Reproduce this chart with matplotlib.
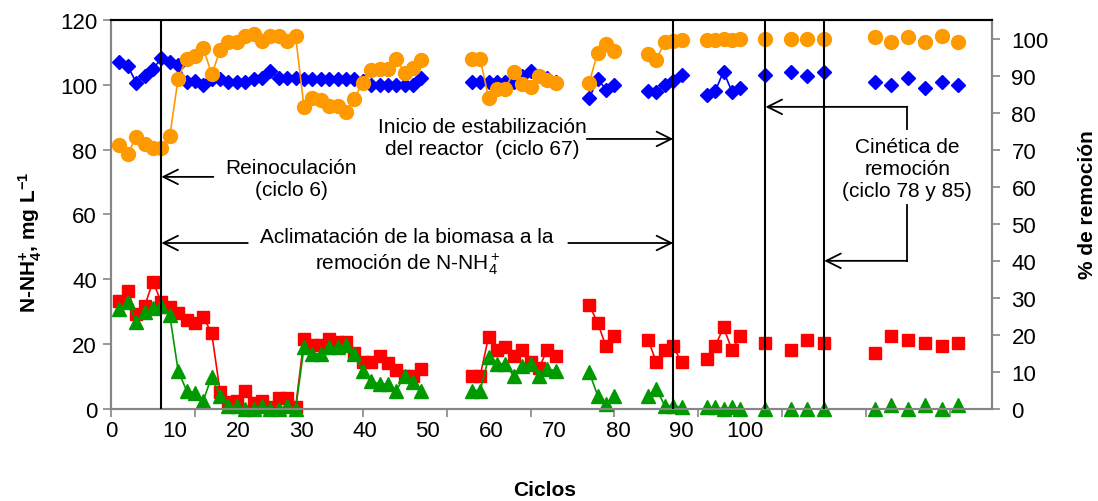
import numpy as np
import matplotlib.pyplot as plt

plt.rcParams['font.family'] = ['Liberation Sans', 'DejaVu Sans']
plt.rcParams['mathtext.fontset'] = 'custom'
plt.rcParams['mathtext.rm'] = 'Liberation Sans'
plt.rcParams['mathtext.it'] = 'Liberation Sans:italic'
plt.rcParams['mathtext.bf'] = 'Liberation Sans:bold'

# cycles with measurements (gaps = no data)
cycles = [1, 2, 3, 4, 5, 6, 7, 8, 9, 10, 11, 12, 13, 14, 15, 16, 17, 18, 19, 20,
          21, 22, 23, 24, 25, 26, 27, 28, 29, 30, 31, 32, 33, 34, 35, 36, 37,
          43, 44, 45, 46, 47, 48, 49, 50, 51, 52, 53,
          57, 58, 59, 60,
          64, 65, 66, 67, 68,
          71, 72, 73, 74, 75,
          78, 81, 83, 85,
          91, 93, 95, 97, 99, 101]

# N-NH4+ influent (blue diamonds, left axis)
influent = [107.1, 105.9, 100.6, 102.8, 104.9, 108.2, 107.1, 106.1, 100.8, 101.3,
            100.0, 101.8, 101.8, 100.8, 100.8, 101.0, 101.8, 102.0, 104.4, 102.0,
            102.0, 102.0, 101.8, 101.8, 101.8, 101.8, 101.8, 101.8, 101.8, 101.3,
            100.0, 100.0, 100.0, 100.0, 100.0, 100.0, 102.0,
            101.0, 101.0, 101.0, 101.0, 101.0, 101.0, 102.6, 104.4, 102.6, 102.0, 100.8,
            95.8, 101.8, 98.5, 100.0,
            98.2, 97.9, 100.0, 101.3, 103.0,
            97.0, 98.0, 104.1, 97.9, 98.9,
            103.0, 104.1, 102.8, 104.1,
            101.0, 100.0, 102.0, 98.9, 101.0, 100.0]

# % removal (orange circles, right axis)
removal = [71.2, 68.9, 73.4, 71.4, 70.5, 70.5, 73.6, 89.2, 94.6, 95.2,
           97.5, 90.3, 96.8, 99.1, 99.1, 100.7, 101.1, 99.3, 100.7, 100.7,
           99.3, 100.7, 81.5, 84.0, 83.3, 81.8, 81.8, 80.2, 83.8, 88.1,
           91.6, 91.9, 91.9, 94.4, 90.8, 92.1, 94.1,
           94.4, 94.4, 84.0, 86.5, 86.5, 91.0, 87.8, 86.9, 89.9, 88.7, 88.1,
           88.1, 96.2, 98.6, 96.6,
           95.9, 94.3, 99.1, 99.4, 99.5,
           99.6, 99.6, 99.8, 99.7, 99.8,
           99.8, 99.9, 99.8, 99.8,
           100.4, 99.1, 100.4, 99.1, 100.6, 99.1]

# N-NH4+ effluent (red squares, left axis)
effluent = [33.4, 36.3, 29.3, 31.7, 39.3, 32.9, 31.6, 29.5, 27.6, 26.5,
            28.3, 23.4, 5.3, 2.1, 2.6, 5.4, 1.9, 2.6, 0.5, 3.3,
            3.3, 0.5, 21.6, 19.7, 19.7, 21.6, 20.6, 20.6, 17.2, 14.4,
            14.4, 16.3, 14.2, 12.1, 10.3, 10.3, 12.3,
            10.3, 10.3, 22.3, 18.3, 19.0, 16.3, 18.3, 14.4, 12.6, 18.3, 16.3,
            32.1, 26.5, 19.3, 22.4,
            21.4, 14.4, 18.3, 19.3, 14.4,
            15.4, 19.3, 25.2, 18.3, 22.4,
            20.4, 18.3, 21.4, 20.4,
            17.3, 22.4, 21.4, 20.4, 19.3, 20.4]

# second effluent series (green triangles, left axis)
effluent2 = [30.8, 32.9, 26.9, 30.0, 31.1, 31.9, 29.0, 11.8, 5.7, 4.9,
             2.6, 10.0, 3.9, 1.0, 1.0, 0.0, 0.0, 1.0, 0.0, 0.0,
             1.0, 0.0, 19.0, 17.0, 17.0, 19.0, 19.0, 19.7, 17.0, 11.6,
             8.5, 7.7, 7.7, 5.7, 10.3, 8.2, 5.7,
             5.7, 5.7, 15.9, 13.9, 13.9, 10.1, 13.2, 13.9, 10.1, 12.3, 11.8,
             11.3, 4.1, 1.5, 4.1,
             4.1, 6.2, 1.0, 1.0, 0.5,
             0.5, 0.5, 0.0, 0.5, 0.0,
             0.0, 0.0, 0.0, 0.0,
             0.0, 1.2, 0.0, 1.2, 0.0, 1.2]

events = [6, 67, 78, 85]
tick_labels = [0, 10, 20, 30, 40, 50, 60, 70, 80, 90, 100]
LABEL_SPAN = 139  # the printed labels belong to a 0-139 scale (as in the original)

GRAY = '#868686'


def full(vals):
    # put values on a 1..101 grid, NaN where there was no cycle -> broken lines
    s = np.full(101, np.nan)
    s[np.array(cycles) - 1] = vals
    return s


x_all = np.arange(1, 102)

fig = plt.figure(figsize=(10.98, 5.02), dpi=100)
ax = fig.add_axes([0.1011, 0.1833, 0.8024, 0.7749])
ax2 = ax.twinx()

ax.plot(x_all, full(influent), color='#0000FF', marker='D', ms=7, lw=1.2, clip_on=False)
ax.plot(x_all, full(effluent), color='#FF0000', marker='s', ms=9, lw=1.2, clip_on=False)
ax.plot(x_all, full(effluent2), color='#009900', marker='^', ms=9.5, lw=1.2, clip_on=False)
ax2.plot(x_all, full(removal), color='#FF9900', marker='o', ms=10, lw=1.2, clip_on=False)

ax.set_xlim(0, 105)
ax.set_ylim(0, 120)
ax2.set_ylim(0, 105)
ax.set_yticks(range(0, 121, 20))
ax2.set_yticks(range(0, 101, 10))
ax.set_xticks(range(0, 101, 10))

for a in (ax, ax2):
    for s in a.spines.values():
        s.set_color(GRAY)
        s.set_linewidth(1.5)
    a.spines['top'].set_color('black')
    a.tick_params(direction='out', length=6, width=1.2, color=GRAY, labelsize=16)
ax.tick_params(axis='x', labelbottom=False)
ax.tick_params(axis='y', pad=4)
ax2.tick_params(axis='y', pad=8)

# printed x labels (offset from the tick marks, like in the source chart)
lab = ax.secondary_xaxis('bottom', functions=(lambda v: v * LABEL_SPAN / 105,
                                              lambda v: v * 105 / LABEL_SPAN))
lab.set_xticks(tick_labels)
lab.tick_params(length=0, labelsize=16, pad=8)
lab.spines['bottom'].set_visible(False)

ax.set_xlabel('Ciclos', fontsize=15, fontweight='bold')
ax.xaxis.set_label_coords(0.4926, -0.183)
ax.set_ylabel(r'N-NH$_\mathbf{4}^\mathbf{+}$, mg L$^\mathbf{-1}$', fontsize=15, fontweight='bold')
ax.yaxis.set_label_coords(-0.076, 0.43)
ax2.set_ylabel('% de remoción', fontsize=15, fontweight='bold')
ax2.yaxis.set_label_coords(1.098, 0.527)

# event lines
for c in events:
    ax2.axvline(c, color='black', lw=1.5, zorder=5)

arrow = dict(arrowstyle='->, head_length=0.7, head_width=0.35', color='black',
             lw=1.3, shrinkA=0, shrinkB=0, mutation_scale=15)
tr = ax.transData
fs = 15

ax2.annotate('', xy=(events[0], 71.6), xytext=(12.2, 71.6), xycoords=tr, textcoords=tr, arrowprops=arrow)
ax2.text(21.5, 71.0, 'Reinoculación\n(ciclo 6)', transform=tr, ha='center', va='center', fontsize=fs)

ax2.annotate('', xy=(events[0], 51.2), xytext=(16.3, 51.2), xycoords=tr, textcoords=tr, arrowprops=arrow)
ax2.annotate('', xy=(events[1], 51.2), xytext=(54.5, 51.2), xycoords=tr, textcoords=tr, arrowprops=arrow)
ax2.text(35.3, 48.6, 'Aclimatación de la biomasa a la\nremoción de N-NH$_4^+$', transform=tr,
         ha='center', va='center', fontsize=fs)

ax2.annotate('', xy=(events[1], 83.3), xytext=(56.7, 83.3), xycoords=tr, textcoords=tr, arrowprops=arrow)
ax2.text(44.2, 83.8, 'Inicio de estabilización\ndel reactor  (ciclo 67)', transform=tr,
         ha='center', va='center', fontsize=fs)

ax2.text(94.9, 74.3, 'Cinética de\nremoción\n(ciclo 78 y 85)', transform=tr,
         ha='center', va='center', fontsize=fs)
ax2.plot([94.9, 94.9], [86.4, 93.2], color='black', lw=1.3, transform=tr)
ax2.annotate('', xy=(events[2], 93.2), xytext=(94.9, 93.2), xycoords=tr, textcoords=tr, arrowprops=arrow)
ax2.plot([94.9, 94.9], [63.0, 45.7], color='black', lw=1.3, transform=tr)
ax2.annotate('', xy=(events[3], 45.7), xytext=(94.9, 45.7), xycoords=tr, textcoords=tr, arrowprops=arrow)

plt.savefig('out.png', dpi=100)
